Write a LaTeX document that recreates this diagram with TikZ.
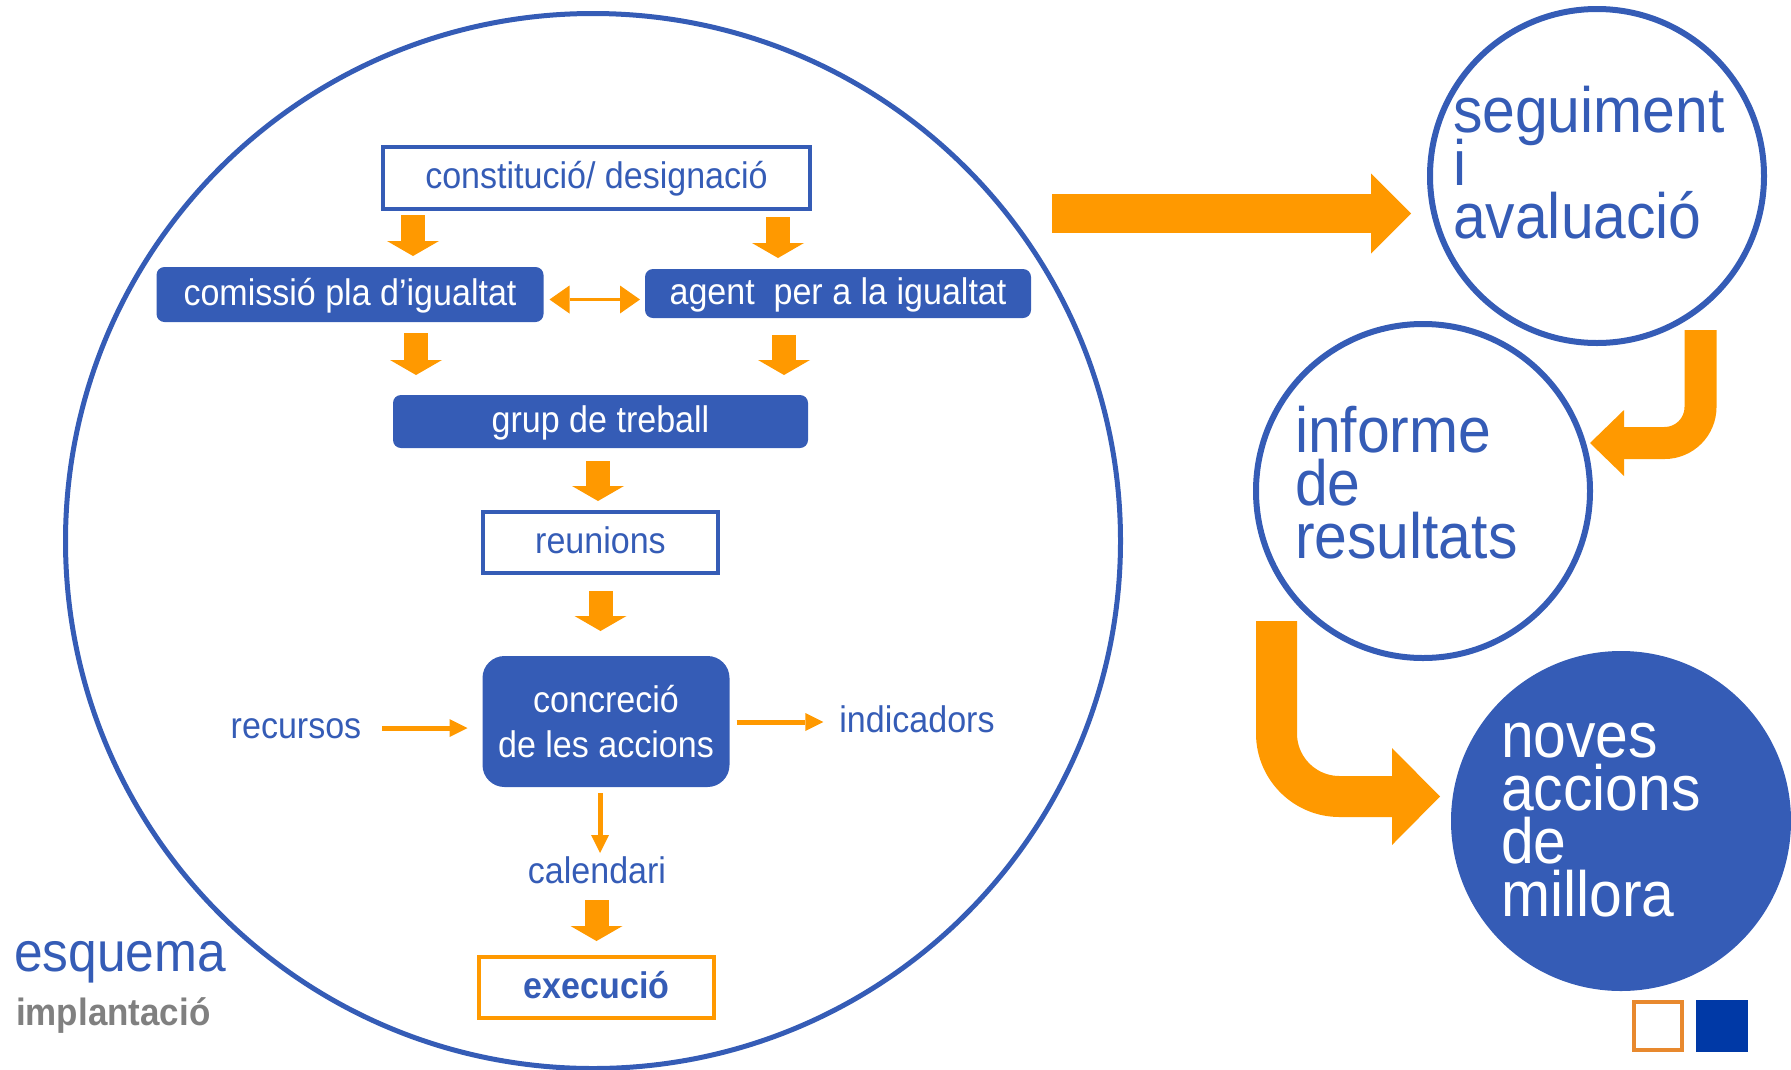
\documentclass[tikz,border=0pt]{standalone}
\usepackage{fontspec}
\setmainfont{Liberation Sans}[FakeStretch=0.92]
\usetikzlibrary{arrows.meta}
\definecolor{planblue}{RGB}{53,92,182}
\definecolor{planorange}{RGB}{255,153,0}
\definecolor{squareorange}{RGB}{232,137,46}
\definecolor{squareblue}{RGB}{0,57,166}
\definecolor{labelgray}{RGB}{128,128,128}
\newcommand{\boxfont}{\fontsize{37}{45}\selectfont}
\newcommand{\circlefont}{\fontsize{64}{53}\selectfont\lineskiplimit=-100pt\relax}

\begin{document}
\begin{tikzpicture}[x=1pt, y=-1pt,
    boxtext/.style={font=\boxfont, inner sep=0pt, outer sep=0pt},
    oneline/.style={text height=28pt, text depth=7pt},
    outlinebox/.style={boxtext, oneline, draw=planblue, line width=4pt, text=planblue},
    filledbox/.style={boxtext, oneline, fill=planblue, text=white, rounded corners=8pt},
    actionbox/.style={boxtext, fill=planblue, text=white, rounded corners=22pt, align=center},
    plaintext/.style={font=\boxfont, text=planblue, inner sep=0pt, outer sep=0pt, text height=26pt, text depth=6pt},
    ringnode/.style={circle, draw=planblue, line width=6pt, minimum size=334pt, inner sep=0pt, outer sep=0pt},
    circletext/.style={font=\circlefont, align=left, inner sep=0pt, outer sep=0pt},
    downarrow/.style={draw=planorange, line width=24pt, -{Triangle[length=15pt,width=52pt,line width=0pt]}},
    thinarrow/.style={draw=planorange, line width=5pt, -{Triangle[length=18pt,width=18pt,line width=0pt]}},
    twoarrow/.style={draw=planorange, line width=3.5pt, {Triangle[length=20pt,width=28pt,line width=0pt]}-{Triangle[length=20pt,width=28pt,line width=0pt]}}]
    \useasboundingbox (0,0) rectangle (1791,1069);

    % the plan
    \node[circle, draw=planblue, line width=5pt, minimum size=1055pt, inner sep=0pt, outer sep=0pt] (plan) at (593,541) {};
    \node[outlinebox, minimum width=427pt, minimum height=62pt] (constit) at (596.5,178) {constitució/ designació};
    \node[filledbox, minimum width=387pt, minimum height=55pt] (comissio) at (350,294.5) {comissió pla d’igualtat};
    \node[filledbox, minimum width=386pt, minimum height=49pt] (agent) at (838,293.5) {agent\ \ per a la igualtat};
    \node[filledbox, minimum width=415pt, minimum height=53pt] (grup) at (600.5,421.5) {grup de treball};
    \node[outlinebox, minimum width=235pt, minimum height=61pt] (reunions) at (600.5,542.5) {reunions};
    \node[actionbox, minimum width=247pt, minimum height=131pt] (concrecio) at (606,721.5) {concreció\\de les accions};
    \node[plaintext, anchor=base] (recursos) at (296,738) {recursos};
    \node[plaintext, anchor=base] (indicadors) at (917,732) {indicadors};
    \node[plaintext, anchor=base] (calendari) at (597,883) {calendari};
    \node[outlinebox, draw=planorange, font=\boxfont\bfseries, minimum width=235pt, minimum height=61pt] (execucio) at (596.5,987.5) {execució};

    \draw[downarrow, shorten <=6pt, shorten >=11pt] ([xshift=63pt]comissio.north |- constit.south) -- ([xshift=63pt]comissio.north);
    \draw[downarrow, shorten <=8pt, shorten >=11pt] ([xshift=-60pt]agent.north |- constit.south) -- ([xshift=-60pt]agent.north);
    \draw[twoarrow, shorten <=6pt, shorten >=5pt] ([yshift=-5pt]comissio.east) -- ([yshift=-5pt]comissio.east -| agent.west);
    \draw[downarrow, shorten <=11pt, shorten >=20pt] ([xshift=66pt]comissio.south) -- ([xshift=66pt]comissio.south |- grup.north);
    \draw[downarrow, shorten <=17pt, shorten >=20pt] ([xshift=-54pt]agent.south) -- ([xshift=-54pt]agent.south |- grup.north);
    \draw[downarrow, shorten <=13pt, shorten >=11pt] ([xshift=-2.5pt]grup.south) -- ([xshift=-2.5pt]grup.south |- reunions.north);
    \draw[downarrow, shorten <=18pt, shorten >=25pt] (reunions.south) -- (reunions.south |- concrecio.north);
    \draw[thinarrow, shorten <=21pt, shorten >=15pt] (recursos.east) -- (recursos.east -| concrecio.west);
    \draw[thinarrow, shorten <=7pt, shorten >=16pt] (concrecio.east |- indicadors.west) -- (indicadors.west);
    \draw[thinarrow, shorten <=6pt, shorten >=4pt] ([xshift=-6pt]concrecio.south) -- ([xshift=-6pt]concrecio.south |- calendari.north);
    \draw[downarrow, shorten <=11pt, shorten >=16pt] (execucio.north |- calendari.south) -- (execucio.north);

    % title
    \node[font=\fontsize{56}{60}\selectfont, text=planblue, inner sep=0pt, anchor=base west] (esquema) at (14,971) {esquema};
    \node[font=\fontsize{38}{40}\selectfont\bfseries, text=labelgray, inner sep=0pt, anchor=base west] (implantacio) at (16,1025) {implantació};

    % the cycle
    \node[ringnode] (seguiment) at (1597,176) {};
    \node[ringnode] (informe) at (1423,491) {};
    \node[circle, fill=planblue, minimum size=340pt, inner sep=0pt, outer sep=0pt] (noves) at (1621,821) {};
    \node[circletext, text=planblue, anchor=north west] (seguimenttext) at (1453,86) {seguiment\\i\\avaluació};
    \node[circletext, text=planblue, anchor=north west] (informetext) at (1295,406) {informe\\de\\resultats};
    \node[circletext, text=white, anchor=north west] (novestext) at (1501,723) {noves\\accions\\de\\millora};

    \coordinate (bigstart) at (1052,213.5);
    \coordinate (turnstart) at (1700.5,330);
    \coordinate (turnstartb) at (1276.5,621);
    \draw[draw=planorange, line width=39pt, -{Triangle[length=40pt,width=80pt,line width=0pt]}, shorten >=19pt] (bigstart) -- (bigstart -| seguiment.west);
    \draw[draw=planorange, line width=32pt, rounded corners=36pt, -{Triangle[length=34pt,width=66pt,line width=0pt]}] (turnstart) |- ([yshift=48pt]informe.east);
    \draw[draw=planorange, line width=41pt, rounded corners=63pt, -{Triangle[length=48pt,width=97pt,line width=0pt]}, shorten >=11pt] (turnstartb) |- ([yshift=24.5pt]noves.west);

    \node[draw=squareorange, line width=4pt, minimum size=48pt, inner sep=0pt] (sqorange) at (1658,1025.5) {};
    \node[fill=squareblue, minimum size=52pt, inner sep=0pt] (sqblue) at (1722,1026) {};
\end{tikzpicture}
\end{document}
